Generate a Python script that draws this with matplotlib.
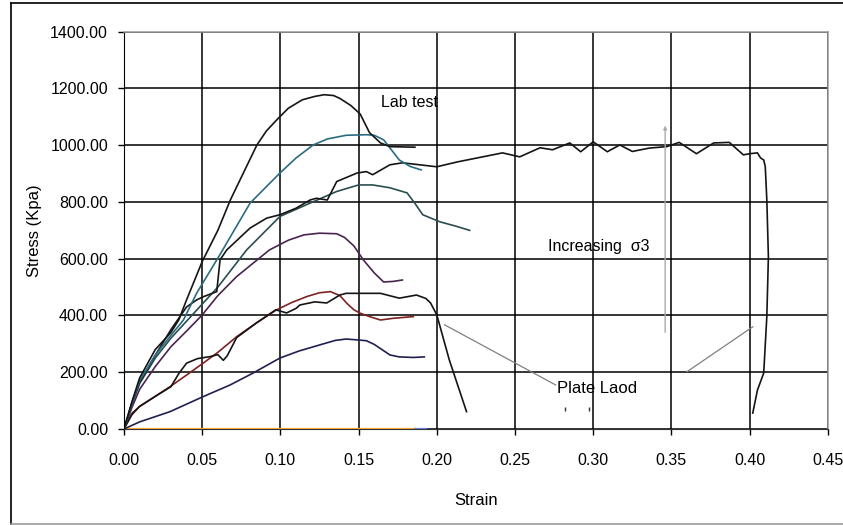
import numpy as np
import matplotlib
matplotlib.use("Agg")
import matplotlib.pyplot as plt
from matplotlib.lines import Line2D

plt.rcParams['font.family'] = ['Liberation Sans', 'DejaVu Sans']

# lab test 1 (highest peak)
lab1_x = [0, 0.005, 0.01, 0.02, 0.03, 0.035, 0.04, 0.05, 0.06, 0.068, 0.077, 0.085, 0.091,
          0.0976, 0.105, 0.114, 0.122, 0.128, 0.134, 0.138, 0.145, 0.151, 0.157, 0.164,
          0.170, 0.186]
lab1_y = [0, 95, 180, 280, 340, 384, 455, 590, 700, 807, 910, 1001, 1050,
          1089, 1130, 1160, 1172, 1178, 1175, 1165, 1140, 1110, 1044, 1008,
          995, 993]

# lab test 2 (teal)
lab2_x = [0, 0.005, 0.01, 0.02, 0.03, 0.038, 0.0465, 0.0614, 0.0806, 0.0997, 0.110,
          0.121, 0.130, 0.142, 0.155, 0.160, 0.166, 0.176, 0.183, 0.190]
lab2_y = [0, 90, 170, 260, 330, 384, 479, 615, 796, 902, 955,
          1001, 1022, 1035, 1037, 1035, 1019, 948, 925, 913]

# plate load test (long curve)
plate_x = [0, 0.005, 0.01, 0.02, 0.03, 0.04, 0.0465, 0.0507, 0.0593, 0.0614, 0.0657,
           0.0806, 0.0912, 0.0997, 0.110, 0.119, 0.123, 0.130, 0.136, 0.149, 0.155,
           0.159, 0.170, 0.178, 0.200, 0.213, 0.242, 0.253, 0.266, 0.274, 0.285,
           0.292, 0.300, 0.309, 0.317, 0.325, 0.336, 0.347, 0.355, 0.366, 0.377,
           0.387, 0.396, 0.400, 0.405, 0.407, 0.409, 0.410, 0.411, 0.412, 0.411,
           0.409, 0.405, 0.402]
plate_y = [0, 90, 165, 260, 350, 430, 455, 466, 484, 596, 631,
           708, 743, 755, 778, 807, 813, 807, 872, 902, 907,
           896, 931, 938, 924, 941, 973, 959, 991, 984, 1008,
           977, 1012, 977, 1001, 978, 990, 995, 1010, 970, 1008,
           1010, 966, 970, 973, 955, 948, 925, 807, 607, 396,
           197, 137, 56]

# lab test 3 (dark teal)
lab3_x = [0, 0.005, 0.01, 0.02, 0.03, 0.04, 0.05, 0.06, 0.0784, 0.0997, 0.119,
          0.136, 0.150, 0.159, 0.170, 0.181, 0.186, 0.191, 0.202, 0.212, 0.221]
lab3_y = [0, 85, 160, 250, 320, 380, 440, 500, 631, 749, 796,
          837, 860, 860, 850, 832, 795, 755, 730, 715, 700]

# lab test 4 (purple)
lab4_x = [0, 0.005, 0.01, 0.02, 0.03, 0.04, 0.0497, 0.060, 0.072, 0.093, 0.105, 0.115,
          0.125, 0.136, 0.141, 0.147, 0.153, 0.160, 0.166, 0.172, 0.178]
lab4_y = [0, 75, 140, 220, 290, 345, 400, 470, 537, 631, 665, 684,
          690, 688, 675, 645, 596, 550, 518, 520, 525]

# lab test 5 (red)
lab5_x = [0, 0.0017, 0.005, 0.010, 0.02, 0.0294, 0.040, 0.0506, 0.060, 0.072, 0.085,
          0.0976, 0.107, 0.117, 0.125, 0.132, 0.138, 0.143, 0.147, 0.151, 0.157,
          0.164, 0.172, 0.185]
lab5_y = [0, 20, 55, 79, 115, 149, 190, 232, 270, 325, 375,
          420, 445, 467, 480, 484, 470, 440, 420, 408, 396,
          384, 390, 396]

# plate load test (short curve)
plate2_x = [0, 0.005, 0.01, 0.02, 0.03, 0.035, 0.040, 0.047, 0.055, 0.060, 0.0635,
            0.066, 0.072, 0.085, 0.097, 0.104, 0.110, 0.1125, 0.122, 0.1296, 0.138,
            0.142, 0.164, 0.176, 0.187, 0.193, 0.196, 0.200, 0.208, 0.219]
plate2_y = [0, 50, 80, 115, 149, 195, 232, 248, 255, 262, 242,
            258, 322, 375, 420, 409, 425, 437, 448, 444, 472,
            478, 478, 461, 472, 460, 444, 402, 243, 61]

# lab test 6 (navy, lowest)
lab6_x = [0, 0.01, 0.0294, 0.0506, 0.0678, 0.0825, 0.0997, 0.112, 0.125, 0.135, 0.142,
          0.149, 0.155, 0.160, 0.170, 0.176, 0.185, 0.192]
lab6_y = [0, 25, 61, 114, 155, 197, 250, 275, 296, 312, 317,
          314, 311, 298, 261, 254, 252, 254]

# zero-stress base series
base1_x = [0, 0.186]
base1_y = [0, 0]
base2_x = [0.186, 0.193]
base2_y = [0, 0]

fig = plt.figure(figsize=(8.43, 5.25), dpi=100)
ax = fig.add_axes([0.1471, 0.1829, 0.8349, 0.7567])

ax.plot(base1_x, base1_y, color='#ffaa33', lw=1.6, zorder=2)
ax.plot(base2_x, base2_y, color='#6688ee', lw=1.6, zorder=2)
ax.plot(lab6_x, lab6_y, color='#202050', lw=1.2)
ax.plot(lab5_x, lab5_y, color='#7e2222', lw=1.2)
ax.plot(plate2_x, plate2_y, color='#151515', lw=1.2)
ax.plot(lab4_x, lab4_y, color='#4a2450', lw=1.2)
ax.plot(lab3_x, lab3_y, color='#2a4e50', lw=1.2)
ax.plot(plate_x, plate_y, color='#151515', lw=1.2)
ax.plot(lab2_x, lab2_y, color='#2b6c80', lw=1.2)
ax.plot(lab1_x, lab1_y, color='#151515', lw=1.2)

ax.set_xlim(0, 0.45)
ax.set_ylim(0, 1400)
ax.set_xticks(np.arange(0, 0.451, 0.05))
ax.set_yticks(np.arange(0, 1401, 200))
ax.xaxis.set_major_formatter(matplotlib.ticker.FormatStrFormatter('%.2f'))
ax.yaxis.set_major_formatter(matplotlib.ticker.FormatStrFormatter('%.2f'))
ax.tick_params(direction='out', length=4.5, width=1, color='black', labelsize=11.5)
ax.tick_params(axis='x', pad=13)
ax.tick_params(axis='y', pad=7)

ax.set_axisbelow(True)
ax.grid(True, color='black', lw=1.1)
for side in ['top', 'right']:
    ax.spines[side].set_color('#999999')
    ax.spines[side].set_linewidth(1.1)
ax.spines['left'].set_color('black')
ax.spines['bottom'].set_color('#333333')

ax.set_xlabel('Strain', fontsize=12)
ax.xaxis.set_label_coords(0.5, -0.16)
ax.set_ylabel('Stress (Kpa)', fontsize=12)
ax.yaxis.set_label_coords(-0.117, 0.5)

# annotations
ax.text(0.1643, 1150, 'Lab test', fontsize=11.5, va='center')
ax.text(0.2711, 642, 'Increasing  σ3', fontsize=11.5, va='center')
ax.text(0.2769, 141, 'Plate Laod', fontsize=12, va='center')
ax.annotate('', xy=(0.346, 1079), xytext=(0.346, 331),
            arrowprops=dict(arrowstyle='-|>', color='#aaaaaa', lw=1, mutation_scale=5))
ax.plot([0.276, 0.205], [155, 367], color='#808080', lw=0.9)
ax.plot([0.360, 0.402], [202, 360], color='#808080', lw=0.9)
ax.plot([0.282, 0.297], [70, 70], ls='none', marker='|', ms=3, color='#333333')

# outer chart border
fig.add_artist(Line2D([11 / 843, 11 / 843], [1 / 525, 522 / 525], color='black', lw=1.2))
fig.add_artist(Line2D([11 / 843, 1], [522 / 525, 522 / 525], color='black', lw=1.2))
fig.add_artist(Line2D([11 / 843, 1], [1.5 / 525, 1.5 / 525], color='#999999', lw=1.2))

fig.savefig('out.png', dpi=100)
